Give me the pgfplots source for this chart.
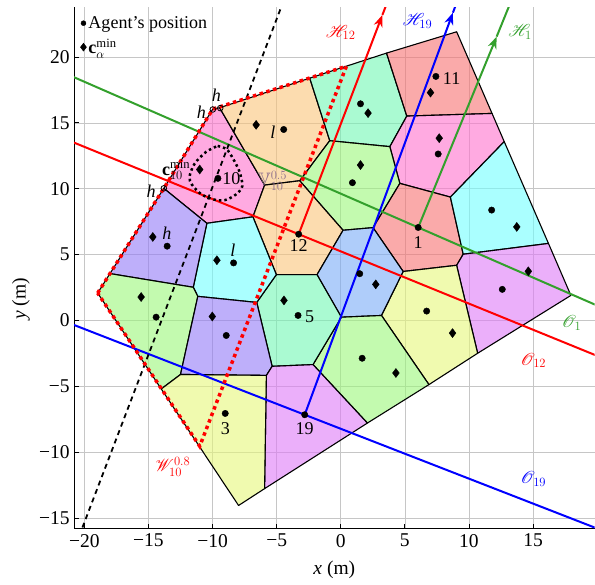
\RequirePackage{fix-cm}
\documentclass[border=0pt]{standalone}
\usepackage{amsmath,amssymb,mathrsfs}
\usepackage{fontspec}
\setmainfont{Liberation Serif}
\usepackage{pgfplots}
\pgfplotsset{compat=1.18}
\usetikzlibrary{arrows.meta}

% cell colours (drawn at 0.6 opacity)
\definecolor{cpink}{RGB}{255,113,205}
\definecolor{cpeach}{RGB}{250,197,122}
\definecolor{cmint}{RGB}{113,247,180}
\definecolor{csalmon}{RGB}{247,113,113}
\definecolor{cgreen}{RGB}{155,247,122}
\definecolor{ccyan}{RGB}{113,255,255}
\definecolor{clav}{RGB}{147,122,247}
\definecolor{cviol}{RGB}{222,122,247}
\definecolor{cyell}{RGB}{230,247,122}
\definecolor{cblue}{RGB}{122,172,247}
\definecolor{oline}{RGB}{51,160,44}
\definecolor{vgray}{RGB}{140,110,140}

\newcommand\cell[2]{\addplot[fill=#1, fill opacity=0.6, draw=black, line width=1.1pt, line join=round, forget plot] coordinates {#2} -- cycle;}

\begin{document}
\begin{tikzpicture}
\begin{axis}[
    scale only axis,
    width=520pt, height=521pt,
    xmin=-20.8, xmax=19.8,
    ymin=-15.8, ymax=23.8,
    axis x line*=bottom, axis y line*=left,
    axis line style={line width=0.8pt},
    xtick={-20,-15,...,15}, ytick={-15,-10,...,20},
    xticklabels={−20,−15,−10,−5,0,5,10,15},
    yticklabels={−15,−10,−5,0,5,10,15,20},
    tick align=inside, major tick length=5pt,
    tick style={black, line width=0.8pt},
    grid=major,
    major grid style={draw=gray!45, line width=0.7pt},
    tick label style={font=\fontsize{19.5}{22}\selectfont},
    xticklabel style={yshift=-2pt},
    yticklabel style={xshift=-1pt},
    label style={font=\fontsize{19.5}{22}\selectfont},
    xlabel={\textit{x} (m)}, ylabel={\textit{y} (m)},
    xlabel style={at={(axis description cs:0.5,0)}, anchor=center, yshift=-41pt},
    ylabel style={at={(axis description cs:0,0.44)}, anchor=center, yshift=53pt},
    legend style={at={(0.01,0.988)}, anchor=north west, draw=none, fill=none,
        font=\fontsize{18}{20}\selectfont, row sep=5pt, inner sep=1pt},
    legend cell align=left,
    clip=true,
]
\addlegendimage{only marks, mark=*, mark size=2.5pt, black}
\addlegendentry{Agent's position}
\addlegendimage{only marks, mark=diamond*, mark size=4pt, black}
\addlegendentry{$\mathbf{c}_{\alpha}^{\min}$}

% Voronoi cells
\cell{cpink}{(-13.8,10.03) (-9.98,16.05) (-9.45,16.15) (-5.94,10.28) (-6.85,7.87) (-10.44,7.38)}
\cell{cpeach}{(-9.45,16.15) (-2.42,18.4) (-0.86,13.65) (-3.2,10.61) (-5.94,10.28)}
\cell{cmint}{(-2.42,18.4) (3.57,20.3) (5.15,15.52) (3.83,13.2) (-0.86,13.65)}
\cell{csalmon}{(3.57,20.3) (9.04,21.92) (11.8,15.72) (5.15,15.52)}
\cell{cpink}{(5.15,15.52) (11.8,15.72) (12.75,13.58) (8.55,9.37) (4.61,10.41) (3.83,13.2)}
\cell{cgreen}{(-0.86,13.65) (3.83,13.2) (4.61,10.41) (2.52,7.05) (0.18,6.85) (-3.2,10.61)}
\cell{cpeach}{(-5.94,10.28) (-3.2,10.61) (0.18,6.85) (-1.85,3.48) (-5.02,3.48) (-6.85,7.87)}
\cell{csalmon}{(4.61,10.41) (8.55,9.37) (9.55,5.03) (9.04,4.19) (4.87,3.72) (2.52,7.05)}
\cell{ccyan}{(8.55,9.37) (12.75,13.58) (16.2,5.85) (9.55,5.03)}
\cell{cviol}{(9.55,5.03) (16.2,5.85) (17.95,1.9) (10.68,-2.49) (9.04,4.19)}
\cell{cyell}{(4.87,3.72) (9.04,4.19) (10.68,-2.49) (6.88,-4.87) (3.18,0.38)}
\cell{cblue}{(0.18,6.85) (2.52,7.05) (4.87,3.72) (3.18,0.38) (0.05,0.25) (-1.85,3.48)}
\cell{cgreen}{(0.05,0.25) (3.18,0.38) (6.88,-4.87) (2.08,-7.79) (-2.16,-3.35)}
\cell{cmint}{(-5.02,3.48) (-1.85,3.48) (0.05,0.25) (-2.16,-3.35) (-5.35,-3.48) (-6.55,1.37)}
\cell{ccyan}{(-10.44,7.38) (-6.85,7.87) (-5.02,3.48) (-6.55,1.37) (-11.15,1.83) (-11.5,2.52)}
\cell{clav}{(-13.8,10.03) (-10.44,7.38) (-11.5,2.52) (-18,3.56)}
\cell{cgreen}{(-18.96,2.08) (-18,3.56) (-11.5,2.52) (-11.15,1.83) (-12.5,-4.1) (-14.0,-5.2)}
\cell{clav}{(-11.15,1.83) (-6.55,1.37) (-5.35,-3.48) (-5.8,-4.17) (-12.5,-4.1)}
\cell{cviol}{(-5.8,-4.17) (-5.35,-3.48) (-2.16,-3.35) (2.08,-7.79) (-5.94,-12.77)}
\cell{cyell}{(-14.0,-5.2) (-12.5,-4.1) (-5.8,-4.17) (-5.94,-12.77) (-7.97,-14.05)}

% separating lines O and half-planes H
\addplot[oline, line width=2pt, forget plot] coordinates {(-21,18.55) (20,1.13)};
\addplot[red, line width=2pt, forget plot] coordinates {(-21,13.58) (20,-2.69)};
\addplot[blue, line width=2pt, forget plot] coordinates {(-21,-0.27) (20,-15.8)};
\addplot[oline, line width=2pt, -{Stealth[length=12pt,width=9pt]}, forget plot] coordinates {(6.04,7.06) (12.16,21.55)};
\addplot[oline, line width=2pt, forget plot] coordinates {(12.16,21.55) (13.6,25)};
\addplot[red, line width=2pt, -{Stealth[length=12pt,width=9pt]}, forget plot] coordinates {(-3.28,6.55) (3.25,23.2)};
\addplot[red, line width=2pt, forget plot] coordinates {(3.25,23.2) (3.96,25)};
\addplot[blue, line width=2pt, -{Stealth[length=12pt,width=9pt]}, forget plot] coordinates {(-2.81,-7.16) (8.75,23.37)};
\addplot[blue, line width=2pt, forget plot] coordinates {(8.75,23.37) (9.37,25)};

% dashed line
\addplot[black, line width=1.8pt, dash pattern=on 5pt off 4pt, forget plot] coordinates {(-20.65,-17) (-4.17,25)};

% W_10^0.8 region
\addplot[red, line width=3.5pt, dash pattern=on 3.5pt off 3.5pt, forget plot] coordinates {(-18.96,2.08) (-13.8,10.03) (-9.98,16.05) (0.44,19.3) (-11.0,-9.55) (-18.96,2.08)};

% V_10^0.5 region
\addplot[black, line width=2.5pt, dash pattern=on 2.5pt off 3pt, smooth, forget plot] coordinates {
(-9.6,13.25) (-8.9,13.0) (-8.41,12.3) (-7.9,11.3) (-7.68,10.2) (-8.2,9.55) (-9.06,9.13) (-9.98,9.2) (-10.9,9.6) (-11.6,10.3) (-11.8,10.9) (-11.4,11.9) (-10.5,12.8) (-9.6,13.25)};

% agents
\addplot[only marks, mark=*, mark size=3.2pt, black, forget plot] coordinates {
(-9.58,10.79) (-4.45,14.5) (1.54,16.45) (7.42,18.53) (7.6,12.64) (0.91,10.46)
(-3.28,6.55) (6.04,7.06) (11.77,8.38) (12.6,2.36) (6.7,0.71) (1.48,3.55)
(1.67,-2.87) (-3.33,0.38) (-8.36,4.37) (-13.54,5.64) (-14.4,0.25) (-8.93,-1.14)
(-2.81,-7.16) (-9.01,-7.06)};

% c^min
\addplot[only marks, mark=diamond*, mark size=4.5pt, black, forget plot] coordinates {
(-11.0,11.46) (-6.6,14.85) (2.13,15.74) (7.0,17.3) (7.68,13.84) (1.54,11.8)
(13.73,7.1) (14.63,3.73) (8.72,-0.96) (2.73,2.74) (4.3,-3.99) (-4.43,1.52)
(-9.66,4.57) (-14.66,6.34) (-15.57,1.78) (-10.02,0.3)};

% h vertices
\addplot[only marks, mark=o, mark size=2.8pt, black, line width=0.8pt, forget plot] coordinates {
(-13.8,10.03) (-9.98,16.02) (-9.4,16.12)};

% annotations
\begin{scope}[font=\fontsize{18}{20}\selectfont]
\node at (axis cs:-8.54,10.78) {10};
\node[text=vgray, anchor=west] at (axis cs:-6.75,10.6) {$\mathbb{V}_{10}^{0.5}$};
\node at (axis cs:8.65,18.38) {11};
\node at (axis cs:-3.28,5.7) {12};
\node at (axis cs:6.04,5.95) {1};
\node at (axis cs:-2.42,0.25) {5};
\node at (axis cs:-9.0,-8.24) {3};
\node at (axis cs:-2.81,-8.24) {19};
\node at (axis cs:-5.29,14.32) {\textit{l}};
\node at (axis cs:-8.41,5.33) {\textit{l}};
\node at (axis cs:-13.57,6.6) {\textit{h}};
\node at (axis cs:-14.79,9.83) {\textit{h}};
\node at (axis cs:-9.71,17.11) {\textit{h}};
\node at (axis cs:-10.88,15.84) {\textit{h}};
\node at (axis cs:-12.84,11.41) {$\mathbf{c}_{10}^{\min}$};
\node[text=red] at (axis cs:0.0,21.86) {$\mathscr{H}_{12}$};
\node[text=blue] at (axis cs:5.98,22.75) {$\mathscr{H}_{19}$};
\node[text=oline] at (axis cs:13.98,21.92) {$\mathscr{H}_{1}$};
\node[text=oline] at (axis cs:18.0,-0.19) {$\mathscr{O}_{1}$};
\node[text=red] at (axis cs:15.02,-3.04) {$\mathscr{O}_{12}$};
\node[text=blue] at (axis cs:15.02,-12.04) {$\mathscr{O}_{19}$};
\node[text=red] at (axis cs:-13.1,-11.1) {$\mathscr{W}_{10}^{0.8}$};
\end{scope}
\end{axis}
\path (current axis.north east) ++(0,7pt);
\path (current axis.south west) ++(-74pt,-56pt);
\end{tikzpicture}
\end{document}
